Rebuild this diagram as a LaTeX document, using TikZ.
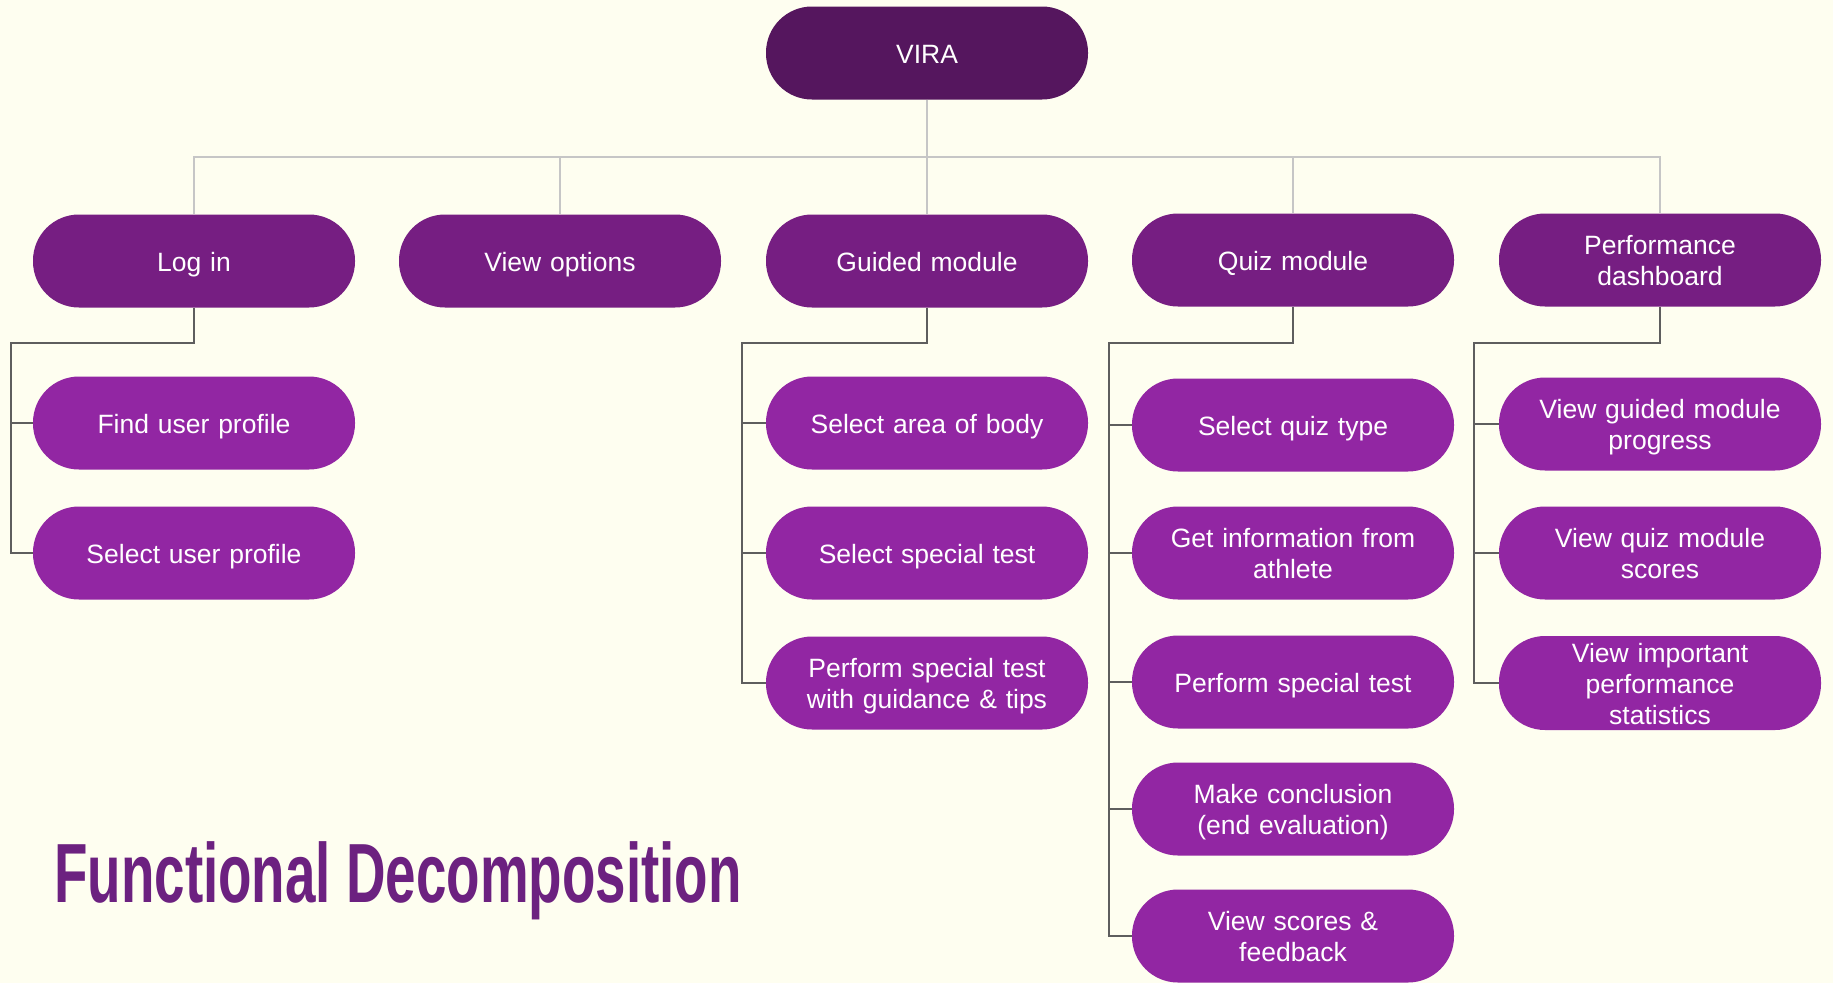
\documentclass[tikz,border=0pt]{standalone}
\usepackage{fontspec}
\setmainfont{Liberation Sans}
\newfontfamily\titlefont{Liberation Sans}
\definecolor{bgc}{HTML}{FEFEF0}
\definecolor{c0}{HTML}{55165E}
\definecolor{c1}{HTML}{761E82}
\definecolor{c2}{HTML}{9226A3}
\definecolor{tc}{HTML}{6C2180}
\definecolor{toplinec}{HTML}{C6C6C6}
\definecolor{childlinec}{HTML}{5E5E5E}
\tikzset{
  pill/.style={rounded corners=46pt, minimum width=322pt, minimum height=93pt,
    text width=300pt, align=center, text=white, inner sep=0pt,
    font=\fontsize{26.5}{31}\selectfont,
    execute at begin node={\rule{0pt}{26pt}},
    execute at end node={\rule[-6pt]{0pt}{6pt}}},
  rootbox/.style={pill, fill=c0},
  lvlbox/.style={pill, fill=c1},
  leafbox/.style={pill, fill=c2},
  topline/.style={draw=toplinec, line width=2pt},
  childline/.style={draw=childlinec, line width=2pt},
}
\begin{document}
\begin{tikzpicture}[x=1pt,y=-1pt]
\fill[bgc] (0,0) rectangle (1833,983);
\useasboundingbox (0,0) rectangle (1833,983);

% root
\node[rootbox] (root) at (927,53) {VIRA};
\coordinate (hb) at (927,157);

% level 1
\node[lvlbox] (login) at (194,261) {Log in};
\node[lvlbox] (view) at (560,261) {View options};
\node[lvlbox] (guided) at (927,261) {Guided module};
\node[lvlbox] (quiz) at (1293,260) {Quiz module};
\node[lvlbox] (perf) at (1660,260) {Performance\\dashboard};

% log in children
\node[leafbox] (l1) at (194,423) {Find user profile};
\node[leafbox] (l2) at (194,553) {Select user profile};

% guided children
\node[leafbox] (g1) at (927,423) {Select area of body};
\node[leafbox] (g2) at (927,553) {Select special test};
\node[leafbox] (g3) at (927,683) {Perform special test\\with guidance \& tips};

% quiz children
\node[leafbox] (q1) at (1293,425) {Select quiz type};
\node[leafbox] (q2) at (1293,553) {Get information from\\athlete};
\node[leafbox] (q3) at (1293,682) {Perform special test};
\node[leafbox] (q4) at (1293,809) {Make conclusion\\(end evaluation)};
\node[leafbox] (q5) at (1293,936) {View scores \&\\feedback};

% performance children
\node[leafbox] (p1) at (1660,424) {View guided module\\progress};
\node[leafbox] (p2) at (1660,553) {View quiz module\\scores};
\node[leafbox] (p3) at (1660,683) {View important\\performance\\statistics};

% top connectors
\draw[topline] (root.south) -- (hb);
\draw[topline] (login.north) -- (login.north |- hb) -- (perf.north |- hb) -- (perf.north);
\draw[topline] (view.north) -- (view.north |- hb);
\draw[topline] (guided.north) -- (hb);
\draw[topline] (quiz.north) -- (quiz.north |- hb);

% child connectors
\draw[childline] (login.south) -- ++(0,35) -| ([xshift=-22pt]l2.west) -- (l2.west);
\draw[childline] ([xshift=-22pt]l1.west) -- (l1.west);

\draw[childline] (guided.south) -- ++(0,35) -| ([xshift=-24pt]g3.west) -- (g3.west);
\draw[childline] ([xshift=-24pt]g1.west) -- (g1.west);
\draw[childline] ([xshift=-24pt]g2.west) -- (g2.west);

\draw[childline] (quiz.south) -- ++(0,36) -| ([xshift=-23pt]q5.west) -- (q5.west);
\draw[childline] ([xshift=-23pt]q1.west) -- (q1.west);
\draw[childline] ([xshift=-23pt]q2.west) -- (q2.west);
\draw[childline] ([xshift=-23pt]q3.west) -- (q3.west);
\draw[childline] ([xshift=-23pt]q4.west) -- (q4.west);

\draw[childline] (perf.south) -- ++(0,36) -| ([xshift=-25pt]p3.west) -- (p3.west);
\draw[childline] ([xshift=-25pt]p1.west) -- (p1.west);
\draw[childline] ([xshift=-25pt]p2.west) -- (p2.west);

% title
\node[anchor=base west, text=tc, inner sep=0pt] (title) at (54,902)
  {\scalebox{0.652}[1]{\titlefont\bfseries\fontsize{84}{84}\selectfont Functional Decomposition}};
\end{tikzpicture}
\end{document}
